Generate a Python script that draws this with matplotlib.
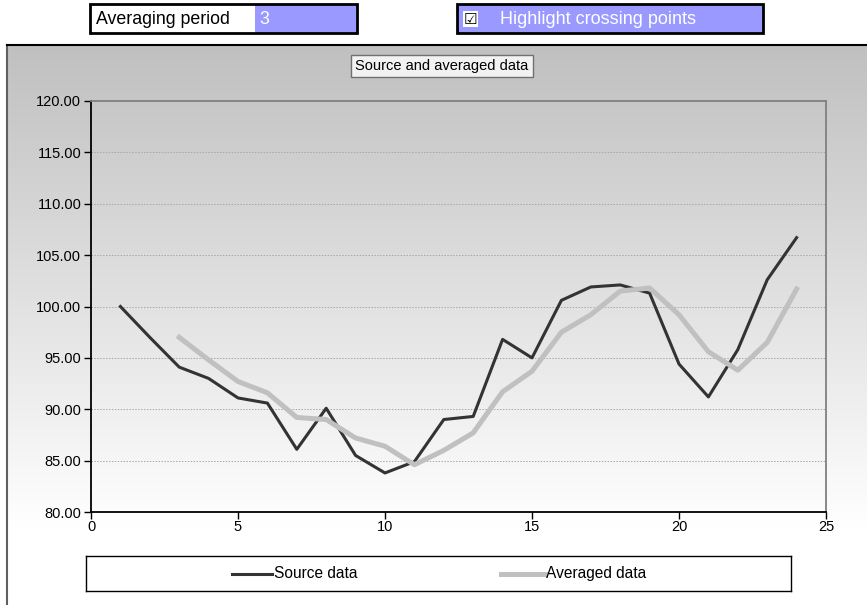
import numpy as np
import matplotlib
matplotlib.use("Agg")
import matplotlib.pyplot as plt
from matplotlib.patches import Rectangle

plt.rcParams["font.family"] = ["Liberation Sans", "DejaVu Sans"]

# data
xs = list(range(1, 25))
source = [100.0, 97.0, 94.1, 93.0, 91.1, 90.6, 86.1, 90.1, 85.5, 83.8, 84.9, 89.0,
          89.3, 96.8, 95.0, 100.6, 101.9, 102.1, 101.3, 94.4, 91.2, 95.8, 102.6, 106.7]
avg_x = list(range(3, 25))
averaged = [97.0, 94.8, 92.7, 91.6, 89.2, 89.0, 87.2, 86.4, 84.6, 86.0, 87.7, 91.7,
            93.7, 97.5, 99.2, 101.5, 101.8, 99.2, 95.6, 93.8, 96.5, 101.7]
yticks = [80, 85, 90, 95, 100, 105, 110, 115, 120]
xticks = [0, 5, 10, 15, 20, 25]
period = "3"

W, H = 867, 605
fig = plt.figure(figsize=(W / 100, H / 100), dpi=100)

# chart area with vertical gradient
bg = fig.add_axes([7 / W, 0, 1 - 7 / W, 1 - 45 / H])
bg.set_axis_off()
grad = np.linspace(192, 255, 256)
grad = np.clip(np.concatenate([grad, np.full(40, 255)]), 0, 255) / 255.0
img = np.repeat(grad[:, None], 2, axis=1)
bg.imshow(np.dstack([img, img, img]), aspect="auto", extent=[0, 1, 0, 1], origin="upper")
bg.set_xlim(0, 1)
bg.set_ylim(0, 1)
bg.plot([0, 0], [0, 1], color="#606060", lw=1.5, clip_on=False)
bg.plot([0, 1], [1, 1], color="black", lw=1.5, clip_on=False)

# plot area
ax = fig.add_axes([91 / W, 1 - 512 / H, (826 - 91) / W, (512 - 101) / H])
ax.patch.set_alpha(0)
ax.plot(xs, source, color="#333333", lw=2.2, label="Source data")
ax.plot(avg_x, averaged, color="#c0c0c0", lw=3.6, label="Averaged data")
ax.set_xlim(0, 25)
ax.set_ylim(80, 120)
ax.set_xticks(xticks)
ax.set_yticks(yticks)
ax.set_yticklabels([f"{v:.2f}" for v in yticks])
for v in yticks[1:-1]:
    ax.axhline(v, color="#a8a8a8", lw=0.7, ls=(0, (1.5, 1.5)), zorder=0)
ax.tick_params(direction="out", length=5, width=1, labelsize=10.5, colors="black")
ax.tick_params(axis="x", pad=1)
ax.tick_params(axis="y", pad=2)
ax.spines["left"].set_color("black")
ax.spines["bottom"].set_color("black")
ax.spines["top"].set_color("#808080")
ax.spines["right"].set_color("#808080")
for s in ax.spines.values():
    s.set_linewidth(1.3)

# title box
fig.text(442 / W, 1 - 66 / H, "Source and averaged data", ha="center", va="center",
         fontsize=10.5, bbox=dict(boxstyle="square,pad=0.3", facecolor="#f2f2f2",
                                  edgecolor="#707070", lw=1))

# legend box
lg = fig.add_axes([86 / W, 1 - 591 / H, (791 - 86) / W, 35 / H])
lg.set_xlim(86, 791)
lg.set_ylim(0, 1)
lg.set_xticks([])
lg.set_yticks([])
lg.set_facecolor("white")
for s in lg.spines.values():
    s.set_color("black")
    s.set_linewidth(1)
lg.plot([232, 272], [0.5, 0.5], color="#333333", lw=2.2)
lg.text(274, 0.5, "Source data", va="center", ha="left", fontsize=11.2)
lg.plot([501, 545], [0.5, 0.5], color="#c0c0c0", lw=3.6)
lg.text(546, 0.5, "Averaged data", va="center", ha="left", fontsize=11.2)

# top controls
fig.patches.append(Rectangle((255 / W, 1 - 33 / H), 102 / W, 29 / H, transform=fig.transFigure,
                             facecolor="#9999ff", edgecolor="none"))
fig.patches.append(Rectangle((90 / W, 1 - 33 / H), 267 / W, 29 / H, transform=fig.transFigure,
                             facecolor="none", edgecolor="black", lw=2))
fig.text(96 / W, 1 - 19 / H, "Averaging period", ha="left", va="center", fontsize=12.8)
fig.text(259 / W, 1 - 19 / H, period, ha="left", va="center", fontsize=12.8, color="white")

fig.patches.append(Rectangle((457 / W, 1 - 33 / H), 306 / W, 29 / H, transform=fig.transFigure,
                             facecolor="#9999ff", edgecolor="black", lw=2))
fig.text(464 / W, 1 - 19 / H, "\u2611", ha="left", va="center", fontsize=11,
         family=["DejaVu Sans"], color="black",
         bbox=dict(boxstyle="square,pad=0.05", facecolor="white", edgecolor="none"))
fig.text(500 / W, 1 - 19 / H, "Highlight crossing points", ha="left", va="center",
         fontsize=13, color="white")

fig.savefig("out.png", dpi=100)
